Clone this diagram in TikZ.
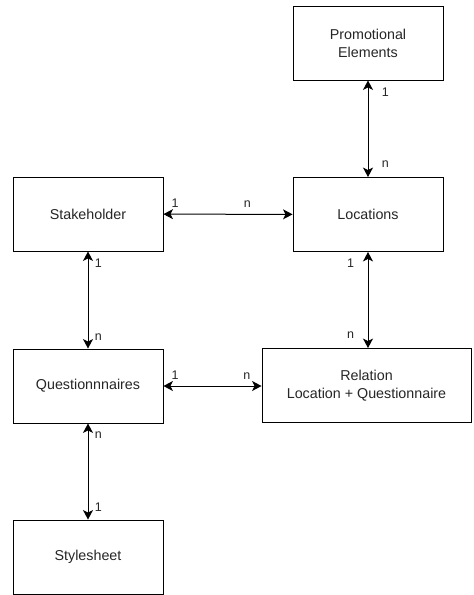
\documentclass[tikz,border=0pt]{standalone}
\usepackage{fontspec}
\setmainfont{Liberation Sans}
\usetikzlibrary{arrows.meta,positioning}
\definecolor{entityline}{HTML}{000000}
\definecolor{entitytext}{HTML}{262626}

\begin{document}
\begin{tikzpicture}[
  x=1pt,y=-1pt,
  entity/.style={draw=entityline,line width=0.9pt,fill=white,minimum width=150pt,minimum height=74pt,align=center,text=entitytext,font=\fontsize{14.3}{17.8}\selectfont},
  link/.style={{Stealth[length=9.5pt,width=10pt,inset=2.5pt]}-{Stealth[length=9.5pt,width=10pt,inset=2.5pt]},line width=1pt,draw=entityline},
  card/.style={font=\fontsize{12.5}{14}\selectfont,text=entitytext}
]
\useasboundingbox (0,0) rectangle (474,595);
\node[entity] (promo) at (368,43) {Promotional\\Elements};
\node[entity] (locations) at (368,214.5) {Locations};
\node[entity] (stakeholder) at (88,214) {Stakeholder};
\node[entity] (quest) at (88,386) {Questionnnaires};
\node[entity,minimum width=209pt] (relation) at (366.5,385.5) {Relation\\Location + Questionnaire};
\node[entity] (style) at (88,557) {Stylesheet};
\draw[link] (promo) -- node[card,pos=0.12,right=10pt]{1} node[card,pos=0.87,right=10pt]{n} (locations);
\draw[link] (stakeholder) -- node[card,pos=0.09,above=3pt]{1} node[card,pos=0.65,above=3pt]{n} (locations);
\draw[link] (stakeholder) -- node[card,pos=0.12,right=3pt]{1} node[card,pos=0.88,right=3pt]{n} (quest);
\draw[link] (locations.south) -- node[card,pos=0.12,left=10pt]{1} node[card,pos=0.87,left=10pt]{n} (locations.south |- relation.north);
\draw[link] (quest) -- node[card,pos=0.12,above=3pt]{1} node[card,pos=0.85,above=3pt]{n} (quest.east -| relation.west);
\draw[link] (quest) -- node[card,pos=0.12,right=3pt]{n} node[card,pos=0.87,right=3pt]{1} (style);
\end{tikzpicture}
\end{document}
